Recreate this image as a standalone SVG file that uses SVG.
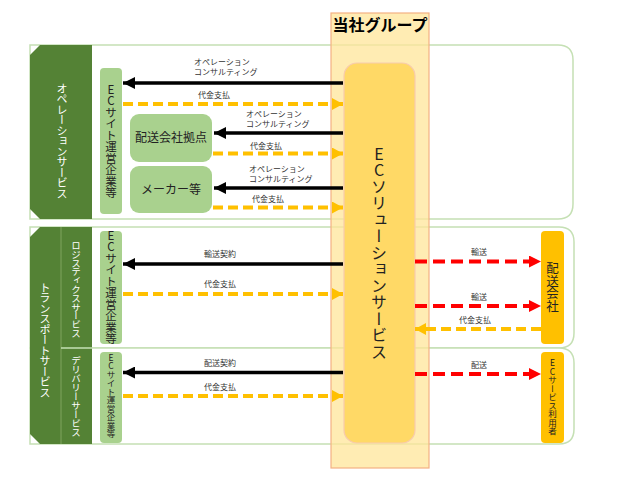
<svg xmlns="http://www.w3.org/2000/svg" width="623" height="486" viewBox="0 0 623 486">
<defs>
<style>
text{font-family:"Noto Sans CJK JP","Noto Sans",sans-serif;}
.lbl{font-size:8px;fill:#333;}
.vt{writing-mode:vertical-rl;text-orientation:upright;text-anchor:middle;}
.tab{fill:#548235;}
.panel{fill:#fff;stroke:#c5e0b4;stroke-width:1.5;}
.lg{fill:#a9d18e;}
.org{fill:#ffc000;}
.blk{stroke:#000;stroke-width:3.5;fill:none;}
.yel{stroke:#ffc000;stroke-width:4;fill:none;stroke-dasharray:10 5;}
.red{stroke:#ff0000;stroke-width:4;fill:none;stroke-dasharray:12 6;}
</style>
<marker id="ab" viewBox="0 0 12 12" refX="12" refY="6" markerWidth="12" markerHeight="12" markerUnits="userSpaceOnUse" orient="auto"><path d="M0,0 L12,6 L0,12 Z" fill="#000"/></marker>
<marker id="ay" viewBox="0 0 11 12" refX="11" refY="6" markerWidth="11" markerHeight="12" markerUnits="userSpaceOnUse" orient="auto"><path d="M0,0 L11,6 L0,12 Z" fill="#ffc000"/></marker>
<marker id="ar" viewBox="0 0 12 12" refX="12" refY="6" markerWidth="12" markerHeight="12" markerUnits="userSpaceOnUse" orient="auto"><path d="M0,0 L12,6 L0,12 Z" fill="#ff0000"/></marker>
</defs>

<g id="panel-operation">
<path class="panel" d="M30,45 H558 Q573,45 573,60 V204 Q573,219 558,219 H30 Z"/>
<path class="tab" d="M40,45 H92 V219 H40 L30,209 V55 Z"/>
<text class="vt" x="62" y="141" fill="#fff" font-size="11" letter-spacing="-0.5">オペレーションサービス</text>
</g>

<g id="panel-transport">
<path class="panel" d="M30,227 H559 Q574,227 574,242 V333 Q574,348 559,348 H30 Z"/>
<path class="panel" d="M30,348 H559 Q574,348 574,363 V429 Q574,444 559,444 H30 Z"/>
<path class="tab" d="M40,227 H61 V444 H40 L30,434 V237 Z"/>
<rect class="tab" x="61" y="227" width="31" height="217"/>
<line x1="61" y1="227" x2="61" y2="444" stroke="#7fa35e" stroke-width="1"/>
<line x1="61" y1="348" x2="92" y2="348" stroke="#c5e0b4" stroke-width="1.5"/>
<text class="vt" x="45" y="340" fill="#fff" font-size="11" letter-spacing="-0.5">トランスポートサービス</text>
<text class="vt" x="76" y="289" fill="#fff" font-size="9.5" letter-spacing="-0.7">ロジスティクスサービス</text>
<text class="vt" x="76" y="396" fill="#fff" font-size="9.5" letter-spacing="-0.5">デリバリーサービス</text>
</g>

<g id="group">
<rect x="331" y="13" width="98" height="455" fill="#ffe699" fill-opacity="0.75" stroke="#f4b183" stroke-width="1.2"/>
<text x="380" y="31" text-anchor="middle" font-size="16" font-weight="bold" fill="#000">当社グループ</text>
</g>

<g id="ec-solution">
<rect x="344" y="63" width="71" height="380" rx="13" fill="#ffd966" stroke="#f8cbad" stroke-width="1.2"/>
<text class="vt" x="379" y="253" font-size="16" letter-spacing="0.5" fill="#222">ECソリューションサービス</text>
</g>

<g id="ec-site-op">
<rect class="lg" x="100" y="68" width="22" height="146" rx="4"/>
<text class="vt" x="111" y="141" font-size="11.5" fill="#222">ECサイト運営企業等</text>
</g>
<g id="haiso-kyoten">
<rect class="lg" x="130" y="114" width="82" height="48" rx="9"/>
<text x="171" y="142" text-anchor="middle" font-size="12" fill="#222">配送会社拠点</text>
</g>
<g id="maker">
<rect class="lg" x="130" y="166" width="82" height="47" rx="9"/>
<text x="171" y="194" text-anchor="middle" font-size="12" fill="#222">メーカー等</text>
</g>
<g id="ec-site-logi">
<rect class="lg" x="100" y="231" width="22" height="113" rx="4"/>
<text class="vt" x="111" y="287" font-size="11.5" fill="#222">ECサイト運営企業等</text>
</g>
<g id="ec-site-deli">
<rect class="lg" x="100" y="352" width="22" height="91" rx="4"/>
<text class="vt" x="111" y="396" font-size="8.5" fill="#222">ECサイト運営企業等</text>
</g>
<g id="haiso-kaisha">
<rect class="org" x="541" y="231" width="23" height="113" rx="4"/>
<text class="vt" x="552.5" y="287" font-size="12.5" fill="#222">配送会社</text>
</g>
<g id="ec-user">
<rect class="org" x="541" y="352" width="23" height="91" rx="4"/>
<text class="vt" x="552.5" y="397" font-size="8.5" fill="#222">ECサービス利用者</text>
</g>

<g id="connectors">
<line class="blk" x1="343" y1="83" x2="123" y2="83" marker-end="url(#ab)"/>
<line class="yel" x1="123" y1="104" x2="343" y2="104" marker-end="url(#ay)"/>
<line class="blk" x1="343" y1="133" x2="214" y2="133" marker-end="url(#ab)"/>
<line class="yel" x1="213" y1="153.5" x2="343" y2="153.5" marker-end="url(#ay)"/>
<line class="blk" x1="343" y1="188" x2="214" y2="188" marker-end="url(#ab)"/>
<line class="yel" x1="213" y1="207.5" x2="343" y2="207.5" marker-end="url(#ay)"/>
<line class="blk" x1="343" y1="264" x2="123" y2="264" marker-end="url(#ab)"/>
<line class="yel" x1="123" y1="294" x2="343" y2="294" marker-end="url(#ay)"/>
<line class="blk" x1="343" y1="372.5" x2="123" y2="372.5" marker-end="url(#ab)"/>
<line class="yel" x1="123" y1="396" x2="343" y2="396" marker-end="url(#ay)"/>
<line class="red" x1="415" y1="261.5" x2="541" y2="261.5" marker-end="url(#ar)"/>
<line class="red" x1="415" y1="306" x2="541" y2="306" marker-end="url(#ar)"/>
<line class="yel" x1="541" y1="329" x2="415" y2="329" marker-end="url(#ay)"/>
<line class="red" x1="415" y1="374" x2="541" y2="374" marker-end="url(#ar)"/>
<text class="lbl" x="194" y="65">オペレーション</text>
<text class="lbl" x="194" y="74.5">コンサルティング</text>
<text class="lbl" x="198" y="98">代金支払</text>
<text class="lbl" x="246" y="117">オペレーション</text>
<text class="lbl" x="246" y="126.5">コンサルティング</text>
<text class="lbl" x="250" y="149">代金支払</text>
<text class="lbl" x="249" y="172">オペレーション</text>
<text class="lbl" x="249" y="181.5">コンサルティング</text>
<text class="lbl" x="252" y="202">代金支払</text>
<text class="lbl" x="204" y="257">輸送契約</text>
<text class="lbl" x="204" y="287">代金支払</text>
<text class="lbl" x="204" y="366">配送契約</text>
<text class="lbl" x="204" y="390">代金支払</text>
<text class="lbl" x="479" y="255" text-anchor="middle">輸送</text>
<text class="lbl" x="479" y="300" text-anchor="middle">輸送</text>
<text class="lbl" x="475" y="323" text-anchor="middle">代金支払</text>
<text class="lbl" x="479" y="368" text-anchor="middle">配送</text>
</g>
</svg>
